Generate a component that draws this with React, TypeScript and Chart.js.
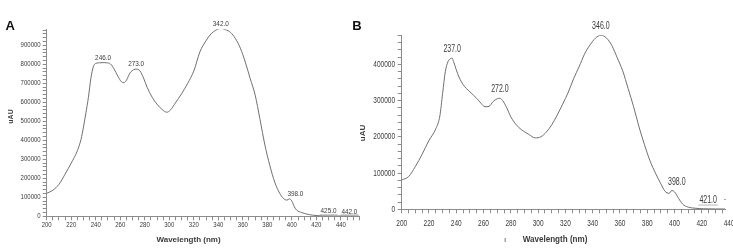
import React, { useEffect, useRef } from 'react';
import { Chart, registerables } from 'chart.js';

Chart.register(...registerables);

// ---------- Panel A data ----------
const wavelengthsA = [200, 205, 210, 215, 220, 225, 228, 230, 232, 234, 236, 238, 240, 243, 246, 249, 252, 255, 258, 261, 263, 265, 268, 271, 273, 276, 279, 282, 286, 290, 294, 298, 301, 305, 310, 315, 320, 325, 330, 334, 338, 342, 346, 350, 354, 358, 362, 366, 370, 374, 378, 382, 386, 390, 393, 396, 398, 400, 402, 404, 408, 412, 417, 422, 425, 435, 442, 455];
const uauA = [121000, 137000, 168000, 222000, 280000, 345000, 405000, 470000, 545000, 625000, 725000, 787000, 805000, 808000, 809000, 808000, 802000, 775000, 738000, 708000, 703000, 716000, 755000, 772000, 775000, 766000, 728000, 678000, 627000, 590000, 563000, 548000, 560000, 597000, 645000, 700000, 765000, 866000, 925000, 960000, 980000, 989000, 982000, 968000, 935000, 885000, 812000, 725000, 640000, 510000, 375000, 268000, 180000, 122000, 95000, 85000, 92000, 80000, 50000, 32000, 20000, 12000, 6000, 3000, 2000, 1500, 1500, 1000];
const peaksA = [246, 273, 342, 398, 425, 442];

// ---------- Panel B data ----------
const wavelengthsB = [200, 205, 210, 215, 220, 225, 228, 230, 232, 234, 236, 237, 238, 240, 242, 245, 250, 255, 258, 261, 264, 267, 270, 272, 274, 277, 280, 284, 288, 293, 298, 302, 306, 310, 314, 318, 322, 326, 330, 334, 338, 342, 346, 350, 354, 358, 362, 366, 370, 374, 378, 382, 386, 390, 393, 396, 398, 400, 403, 406, 410, 415, 421, 430, 437];
const uauB = [81000, 90000, 118000, 152000, 190000, 222000, 258000, 320000, 380000, 408000, 416000, 417000, 408000, 385000, 365000, 344000, 324000, 306000, 293000, 283000, 284000, 297000, 305000, 306000, 300000, 280000, 255000, 233000, 219000, 207000, 197000, 200000, 213000, 233000, 260000, 290000, 322000, 360000, 393000, 428000, 453000, 472000, 480000, 473000, 452000, 418000, 382000, 333000, 283000, 227000, 178000, 134000, 100000, 70000, 50000, 44000, 52000, 48000, 30000, 14000, 6000, 3000, 1500, 1000, 800];
const peaksB = [237, 272, 346, 398, 421];

// ---------- Axis tick labels ----------
const xTickLabelsA = [200, 220, 240, 260, 280, 300, 320, 340, 360, 380, 400, 420, 440];
const xTickLabelsB = [200, 220, 240, 260, 280, 300, 320, 340, 360, 380, 400, 420, 440];
const yTickLabelsA = [0, 100000, 200000, 300000, 400000, 500000, 600000, 700000, 800000, 900000];
const yTickLabelsB = [0, 100000, 200000, 300000, 400000];

const X_TITLE = 'Wavelength (nm)';
const Y_TITLE = 'uAU';

const SANS = '"Liberation Sans", Arial, sans-serif';
const LINE = '#707070';
const AXIS = '#8c8c8c';
const TEXT = '#3a3a3a';

function valueAt(xs: number[], ys: number[], x: number) {
  for (let i = 0; i < xs.length - 1; i++) {
    if (x >= xs[i] && x <= xs[i + 1]) {
      const t = (x - xs[i]) / (xs[i + 1] - xs[i]);
      return ys[i] + t * (ys[i + 1] - ys[i]);
    }
  }
  return ys[ys.length - 1];
}

function range(a: number, b: number, s: number) {
  const out: number[] = [];
  for (let v = a; v <= b + 1e-9; v += s) out.push(v);
  return out;
}

// draws horizontally condensed text (narrow-font look)
function drawText(
  ctx: CanvasRenderingContext2D,
  txt: string,
  x: number,
  y: number,
  align: CanvasTextAlign,
  sx: number
) {
  ctx.save();
  ctx.translate(x, y);
  ctx.scale(sx, 1);
  ctx.textAlign = align;
  ctx.fillText(txt, 0, 0);
  ctx.restore();
}

type PanelCfg = {
  xs: number[];
  ys: number[];
  peaks: number[];
  xTickLabels: number[];
  yTickLabels: number[];
  width: number;
  height: number;
  area: { left: number; top: number; right: number; bottom: number };
  xMax: number;
  yMax: number;
  xTicks: number[];
  tickFont: number;
  tickSx: number;
  xLabelDy: number;
  yLabelGap: number;
  peakFont: number;
  peakSx: number;
  peakOffset: number;
  smallDx: number;
  letter: string;
  letterPos: [number, number];
  letterFont: number;
  yTitlePos: [number, number];
  yTitleFont: number;
  xTitlePos: [number, number];
  xTitleFont: number;
  xTitleSx: number;
  extras?: { text: string; x: number; y: number; size: number }[];
};

function buildChart(canvas: HTMLCanvasElement, c: PanelCfg) {
  const maxY = Math.max(...c.ys);
  const decor = {
    id: 'decor' + c.letter,
    afterDraw(chart: any) {
      const ctx: CanvasRenderingContext2D = chart.ctx;
      const xs = chart.scales.x;
      const ysc = chart.scales.y;
      const area = chart.chartArea;
      ctx.save();
      ctx.fillStyle = TEXT;
      ctx.textBaseline = 'middle';
      // tick labels
      ctx.font = `${c.tickFont}px ${SANS}`;
      c.xTickLabels.forEach((v) => {
        drawText(ctx, String(v), xs.getPixelForValue(v), area.bottom + c.xLabelDy, 'center', c.tickSx);
      });
      c.yTickLabels.forEach((v) => {
        drawText(ctx, String(v), area.left - c.yLabelGap, ysc.getPixelForValue(v), 'right', c.tickSx);
      });
      // peak labels
      ctx.strokeStyle = '#9a9a9a';
      ctx.lineWidth = 0.7;
      ctx.font = `${c.peakFont}px ${SANS}`;
      c.peaks.forEach((p) => {
        const v = valueAt(c.xs, c.ys, p);
        const px = xs.getPixelForValue(p);
        const py = ysc.getPixelForValue(v);
        const txt = p.toFixed(1);
        const w = ctx.measureText(txt).width * c.peakSx;
        if (v < maxY * 0.12) {
          const cx = px + c.smallDx;
          const cy = py - c.peakOffset + 0.5;
          drawText(ctx, txt, cx, cy, 'center', c.peakSx);
          if (v < maxY * 0.03) {
            ctx.beginPath();
            ctx.moveTo(cx - w / 2 - 1, cy + c.peakFont * 0.45);
            ctx.lineTo(cx + w / 2 + 1, cy + c.peakFont * 0.45);
            ctx.stroke();
          }
        } else {
          drawText(ctx, txt, px, py - c.peakOffset, 'center', c.peakSx);
        }
      });
      // panel letter
      ctx.fillStyle = '#111';
      ctx.font = `bold ${c.letterFont}px ${SANS}`;
      ctx.textAlign = 'left';
      ctx.textBaseline = 'alphabetic';
      ctx.fillText(c.letter, c.letterPos[0], c.letterPos[1]);
      // x title
      ctx.fillStyle = TEXT;
      ctx.font = `bold ${c.xTitleFont}px ${SANS}`;
      ctx.textBaseline = 'middle';
      drawText(ctx, X_TITLE, c.xTitlePos[0], c.xTitlePos[1], 'center', c.xTitleSx);
      // y title
      ctx.save();
      ctx.translate(c.yTitlePos[0], c.yTitlePos[1]);
      ctx.rotate(-Math.PI / 2);
      ctx.font = `bold ${c.yTitleFont}px ${SANS}`;
      ctx.textAlign = 'center';
      ctx.fillText(Y_TITLE, 0, 0);
      ctx.restore();
      (c.extras || []).forEach((e) => {
        ctx.font = `${e.size}px ${SANS}`;
        drawText(ctx, e.text, e.x, e.y, 'center', 1);
      });
      ctx.restore();
    },
  };

  return new Chart(canvas, {
    type: 'line',
    data: {
      datasets: [
        {
          data: c.xs.map((x, i) => ({ x, y: c.ys[i] })),
          borderColor: LINE,
          borderWidth: 1,
          pointRadius: 0,
          fill: false,
          cubicInterpolationMode: 'monotone',
        },
      ],
    },
    options: {
      responsive: false,
      animation: false,
      devicePixelRatio: 1,
      layout: {
        padding: { left: 0, top: c.area.top, right: c.width - c.area.right, bottom: 0 },
      },
      plugins: { legend: { display: false }, tooltip: { enabled: false } },
      scales: {
        x: {
          type: 'linear',
          min: 200,
          max: c.xMax,
          afterFit: (s: any) => {
            s.height = c.height - c.area.bottom;
          },
          afterBuildTicks: (s: any) => {
            s.ticks = c.xTicks.map((v) => ({ value: v }));
          },
          border: { display: true, color: AXIS, width: 1 },
          grid: {
            display: true,
            drawOnChartArea: false,
            drawTicks: true,
            tickLength: 4,
            tickColor: AXIS,
          },
          ticks: { autoSkip: false, maxRotation: 0, callback: () => '' },
        },
        y: {
          type: 'linear',
          min: 0,
          max: c.yMax,
          afterFit: (s: any) => {
            s.width = c.area.left;
          },
          afterBuildTicks: (s: any) => {
            s.ticks = range(0, c.yMax, 20000).map((v) => ({ value: v }));
          },
          border: { display: true, color: AXIS, width: 1 },
          grid: { display: true, drawOnChartArea: false, drawTicks: true, tickLength: 4, tickColor: AXIS },
          ticks: { autoSkip: false, callback: () => '' },
        },
      },
    },
    plugins: [decor],
  } as any);
}

function Panel({ cfg, left }: { cfg: PanelCfg; left: number }) {
  const ref = useRef<HTMLCanvasElement>(null);
  useEffect(() => {
    if (!ref.current) return;
    const ch = buildChart(ref.current, cfg);
    return () => ch.destroy();
  }, []);
  return (
    <canvas
      ref={ref}
      width={cfg.width}
      height={cfg.height}
      style={{ position: 'absolute', left, top: 0, width: cfg.width, height: cfg.height }}
    />
  );
}

const cfgA: PanelCfg = {
  xs: wavelengthsA,
  ys: uauA,
  peaks: peaksA,
  xTickLabels: xTickLabelsA,
  yTickLabels: yTickLabelsA,
  width: 370,
  height: 251,
  area: { left: 46.7, top: 29.2, right: 359.3, bottom: 216.3 },
  xMax: 455,
  yMax: 985000,
  xTicks: range(200, 455, 5),
  tickFont: 7,
  tickSx: 0.86,
  xLabelDy: 9,
  yLabelGap: 6,
  peakFont: 7.5,
  peakSx: 0.85,
  peakOffset: 5,
  smallDx: 6,
  letter: 'A',
  letterPos: [5.5, 30],
  letterFont: 13,
  yTitlePos: [11, 116.5],
  yTitleFont: 7,
  xTitlePos: [188.5, 239.3],
  xTitleFont: 8,
  xTitleSx: 1,
};

const cfgB: PanelCfg = {
  xs: wavelengthsB,
  ys: uauB,
  peaks: peaksB,
  xTickLabels: xTickLabelsB,
  yTickLabels: yTickLabelsB,
  width: 410,
  height: 251,
  area: { left: 61.7, top: 35.3, right: 385, bottom: 209.3 },
  xMax: 437,
  yMax: 480000,
  xTicks: range(200, 435, 5),
  tickFont: 9.3,
  tickSx: 0.7,
  xLabelDy: 14,
  yLabelGap: 6.7,
  peakFont: 10,
  peakSx: 0.7,
  peakOffset: 8.7,
  smallDx: 5,
  letter: 'B',
  letterPos: [12.3, 30],
  letterFont: 13,
  yTitlePos: [22.3, 133],
  yTitleFont: 8,
  xTitlePos: [215, 239.3],
  xTitleFont: 8.5,
  xTitleSx: 0.95,
  extras: [
    { text: 'ı', x: 165, y: 240, size: 8 },
    { text: '·', x: 385, y: 200, size: 9 },
  ],
};

export default function App() {
  return (
    <div
      style={{
        position: 'absolute',
        left: 0,
        top: 0,
        width: 733,
        height: 251,
        overflow: 'hidden',
        background: '#ffffff',
      }}
    >
      <Panel cfg={cfgA} left={0} />
      <Panel cfg={cfgB} left={340} />
    </div>
  );
}
